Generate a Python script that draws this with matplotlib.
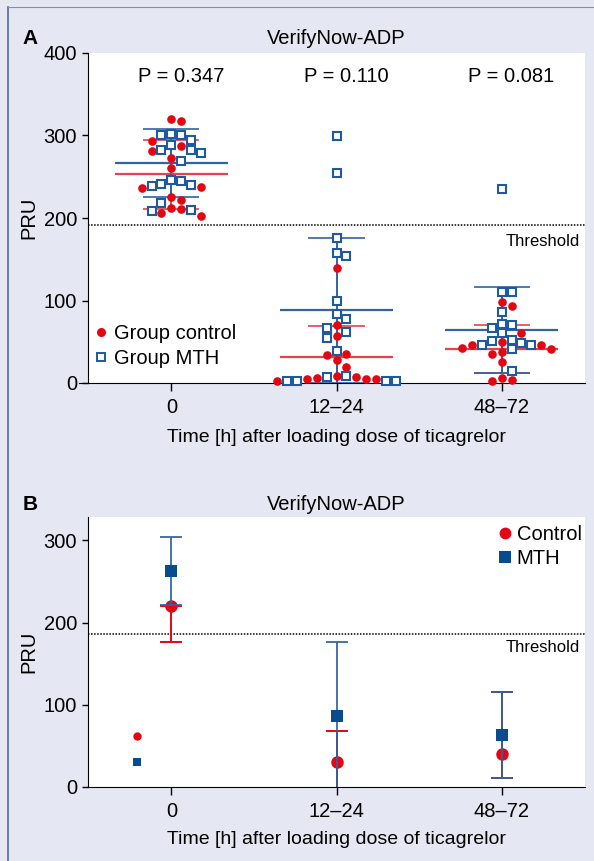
import numpy as np
import matplotlib.pyplot as plt
from matplotlib import font_manager
from matplotlib.lines import Line2D

installed = {f.name for f in font_manager.fontManager.ttflist}
narrow = 'Liberation Sans Narrow' if 'Liberation Sans Narrow' in installed else 'Liberation Sans'
plt.rcParams['font.family'] = [narrow, 'DejaVu Sans']

times = ['0', '12–24', '48–72']
p_values = ['P = 0.347', 'P = 0.110', 'P = 0.081']

# panel A, individual PRU values
ctrl_0 = [320, 318, 293, 287, 281, 273, 261, 238, 236, 225, 222, 212, 211, 206, 202]
ctrl_12 = [140, 70, 57, 35, 34, 28, 20, 9, 7, 6, 5, 5, 5, 3]
ctrl_48 = [98, 93, 61, 50, 46, 46, 42, 41, 37, 35, 25, 6, 4, 2]
mth_0 = [302, 300, 300, 294, 289, 283, 282, 279, 269, 246, 245, 241, 240, 239, 218, 210, 208]
mth_12 = [299, 255, 176, 158, 154, 99, 84, 77, 67, 62, 54, 39, 9, 7, 3, 3, 3, 3]
mth_48 = [235, 110, 110, 86, 72, 70, 67, 61, 52, 51, 48, 46, 46, 41, 15]

ctrl_mean = [253, 31, 41]
ctrl_sd = [42, 38, 29]
mth_mean = [267, 88, 64]
mth_sd = [41, 88, 52]
threshold_a = 191

# panel B, group summaries
ctrl_b = [220, 30, 40]
ctrl_b_low = [177, -8, 11]
ctrl_b_high = [220, 68, 116]
mth_b = [263, 86, 63]
mth_b_low = [222, -4, 11]
mth_b_high = [304, 176, 116]
ctrl_b_extra = 62
mth_b_extra = 30
threshold_b = 186

RED = '#e30613'
BLUE = '#1d5aa0'
NAVY = '#0a4a8f'
RED_LINE = '#e8414b'
BLUE_LINE = '#2f64a5'
BG = '#e5e7f3'
FS = 14


def swarm(vals, gap=11.0):
    order = np.argsort(vals)[::-1]
    tries = [0, 1, -1, 2, -2, 3, -3, 4, -4, 5, -5, 6, -6, 7, -7]
    placed = []
    slots = np.zeros(len(vals))
    for i in order:
        v = vals[i]
        for s in tries:
            if all(abs(v - pv) >= gap for pv, ps in placed if ps == s):
                break
        placed.append((v, s))
        slots[i] = s
    return slots


fig = plt.figure(figsize=(5.94, 8.61), dpi=100, facecolor=BG)
W, H = 594, 861

axA = fig.add_axes([88 / W, 1 - 383 / H, 497 / W, 330 / H])
axB = fig.add_axes([88 / W, 1 - 787 / H, 497 / W, 270 / H])

for ax in (axA, axB):
    ax.set_facecolor('white')
    ax.spines['top'].set_visible(False)
    ax.spines['right'].set_visible(False)
    ax.set_xlim(-0.505, 2.505)
    ax.set_xticks(range(3))
    ax.set_xticklabels(times, fontsize=FS + 0.5)
    ax.tick_params(axis='x', length=6, width=1, pad=5)
    ax.tick_params(axis='y', length=4.3, width=1, pad=3.5, labelsize=FS + 0.5)
    ax.set_ylabel('PRU', fontsize=FS + 0.5)
    ax.yaxis.set_label_coords(-0.1, 0.5)
    ax.set_xlabel('Time [h] after loading dose of ticagrelor', fontsize=FS)
    ax.xaxis.label.set_va('center')

# ---- panel A ----
axA.set_ylim(0, 400)
axA.set_yticks([0, 100, 200, 300, 400])
axA.xaxis.set_label_coords(0.5, -0.164)
axA.spines['bottom'].set_bounds(-0.56, 2.505)

slot_w = 0.06
for i, (c, m) in enumerate(zip([ctrl_0, ctrl_12, ctrl_48], [mth_0, mth_12, mth_48])):
    vals = np.array(c + m, dtype=float)
    slots = swarm(vals)
    xs = i + slots * slot_w
    n = len(c)
    for mean, sd, col in ((ctrl_mean[i], ctrl_sd[i], RED_LINE), (mth_mean[i], mth_sd[i], BLUE_LINE)):
        axA.hlines(mean, i - 0.34, i + 0.34, color=col, lw=1.6, zorder=2)
        axA.hlines([mean - sd, mean + sd], i - 0.17, i + 0.17, color=col, lw=1.2, zorder=2)
        axA.vlines(i, max(mean - sd, 0), mean + sd, color=col, lw=1.4, zorder=2)
    axA.plot(xs[:n], vals[:n], 'o', color=RED, ms=6.2, mew=0, zorder=3, clip_on=False)
    axA.plot(xs[n:], vals[n:], 's', mfc='white', mec=BLUE, ms=5.2, mew=1.5, zorder=4, clip_on=False)
    axA.text(i + 0.06, 371, p_values[i], ha='center', va='center', fontsize=FS + 0.5)

axA.axhline(threshold_a, color='black', lw=1.1, ls=(0, (1, 1)), zorder=1)
axA.annotate('Threshold', xy=(1, threshold_a), xycoords=('axes fraction', 'data'),
             xytext=(-3.6, -11.5), textcoords='offset points', ha='right', va='center', fontsize=12)

legA = [Line2D([], [], ls='none', marker='o', color=RED, ms=6.5, mew=0),
        Line2D([], [], ls='none', marker='s', mfc='white', mec=BLUE, ms=5.2, mew=1.4)]
axA.legend(legA, ['Group control', 'Group MTH'], loc='upper left', bbox_to_anchor=(0.014, 0.18),
           frameon=False, fontsize=FS + 0.5, handlelength=0.6, handletextpad=0.35, borderpad=0,
           borderaxespad=0, labelspacing=0.3)

# ---- panel B ----
axB.set_ylim(0, 328.5)
axB.set_yticks([0, 100, 200, 300])
axB.xaxis.set_label_coords(0.5, -0.193)
axB.axhline(threshold_b, color='black', lw=1.1, ls=(0, (1, 1)), zorder=1)
axB.annotate('Threshold', xy=(1, threshold_b), xycoords=('axes fraction', 'data'),
             xytext=(-3.6, -9.4), textcoords='offset points', ha='right', va='center', fontsize=12)

x = np.arange(3)
cb = np.array(ctrl_b)
mb = np.array(mth_b)
axB.errorbar(x, cb, yerr=[cb - np.array(ctrl_b_low), np.array(ctrl_b_high) - cb], fmt='none',
             ecolor=RED, elinewidth=1.4, capsize=8, capthick=1.4, zorder=2)
axB.plot(x, cb, 'o', color=RED, ms=9, mew=0, zorder=3)
axB.errorbar(x, mb, yerr=[mb - np.array(mth_b_low), np.array(mth_b_high) - mb], fmt='none',
             ecolor=BLUE_LINE, elinewidth=1.4, capsize=8, capthick=1.4, zorder=4, alpha=0.9)
axB.plot(x, mb, 's', color=NAVY, ms=8.5, mew=0, zorder=5)
axB.plot([-0.21], [ctrl_b_extra], 'o', color=RED, ms=6, mew=0)
axB.plot([-0.21], [mth_b_extra], 's', color=NAVY, ms=6, mew=0)

legB = [Line2D([], [], ls='none', marker='o', color=RED, ms=8.5, mew=0),
        Line2D([], [], ls='none', marker='s', color=NAVY, ms=8, mew=0)]
axB.legend(legB, ['Control', 'MTH'], loc='upper left', bbox_to_anchor=(0.826, 0.97),
           frameon=False, fontsize=FS + 0.5, handlelength=0.6, handletextpad=0.3, borderpad=0,
           borderaxespad=0, labelspacing=0.25)

# titles and panel letters
for yt, letter in ((38, 'A'), (505, 'B')):
    fig.text(336.5 / W, 1 - yt / H, 'VerifyNow-ADP', ha='center', va='center', fontsize=FS + 0.5)
    fig.text(30 / W, 1 - yt / H, letter, ha='center', va='center', fontsize=FS + 1, fontweight='bold')

# frame lines of the figure box
fig.add_artist(Line2D([8 / W, 8 / W], [0, 1 - 7 / H], transform=fig.transFigure, color='#4a6aae', lw=1.2))
fig.add_artist(Line2D([8 / W, 1], [1 - 7 / H, 1 - 7 / H], transform=fig.transFigure, color='#7f8fb8', lw=0.8))

fig.savefig('out.png', dpi=100, facecolor=BG)
